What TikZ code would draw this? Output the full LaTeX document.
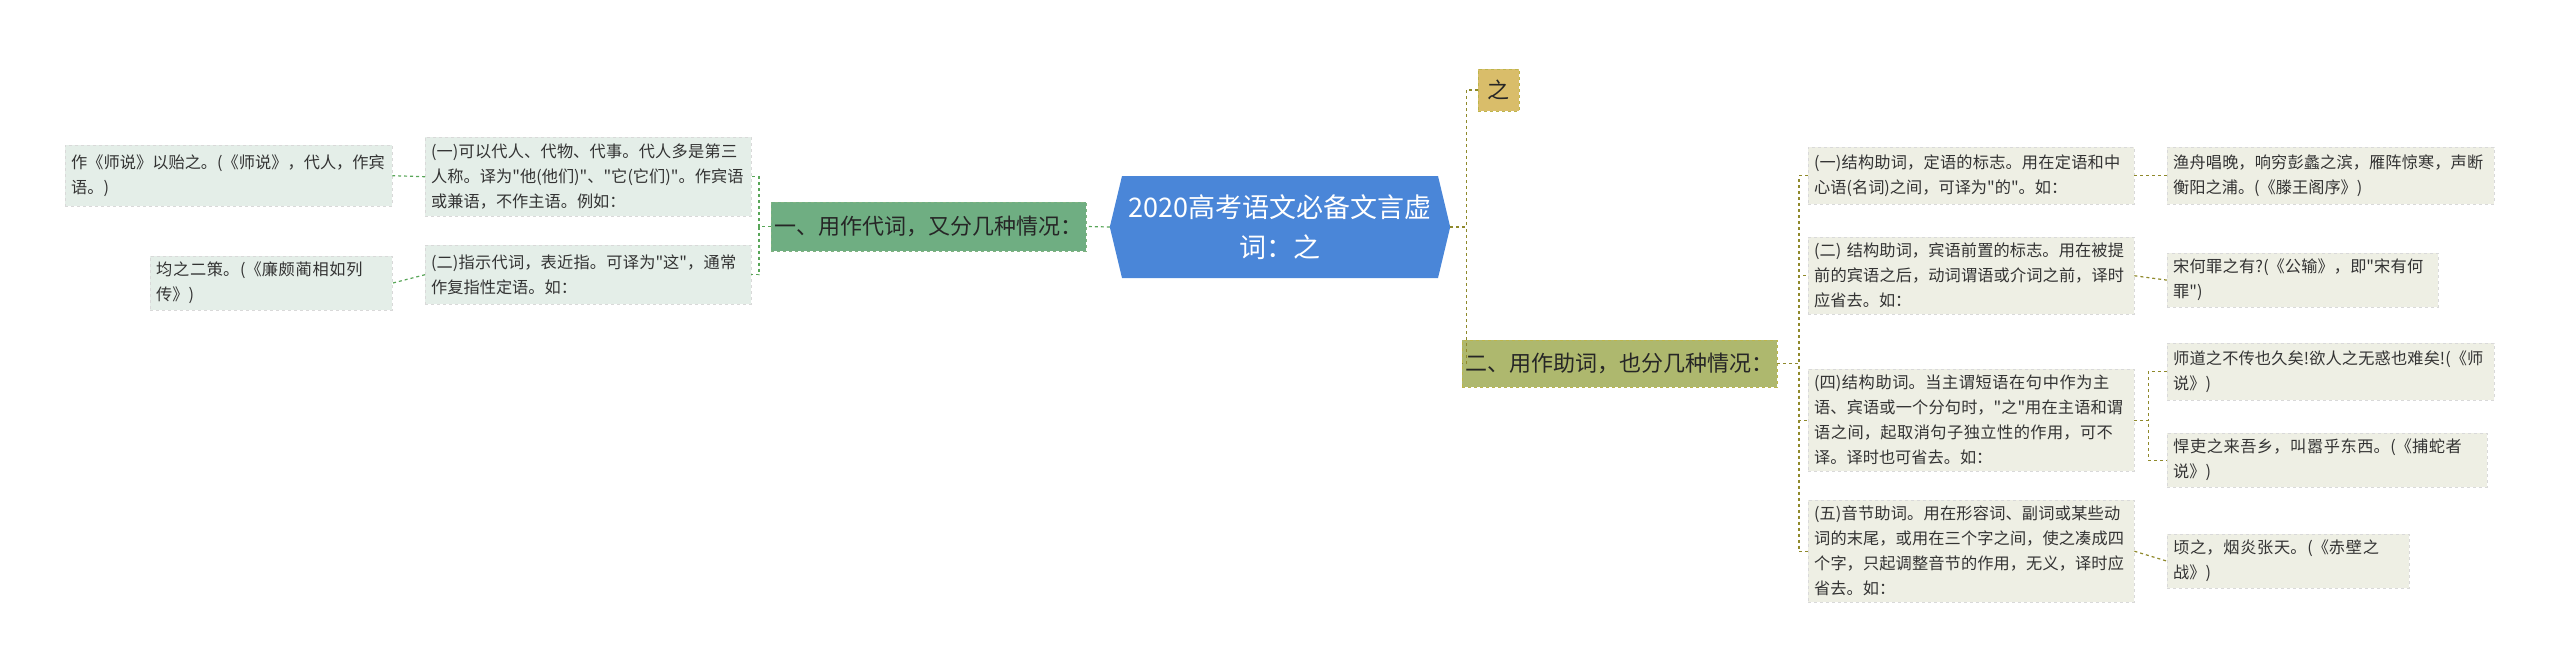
\documentclass[tikz,border=0pt]{standalone}
\usepackage{fontspec}
\setmainfont{Noto Sans CJK SC}
\XeTeXlinebreaklocale "zh"
\XeTeXlinebreakskip=0pt plus 1pt
\newcommand\qq{\textquotedbl}
\begin{document}
\begin{tikzpicture}[x=1pt,y=-1pt,
  leafL/.style={draw=white!85!black, dashed, fill={rgb,255:red,228;green,238;blue,232}, text width=#1, align=left, inner sep=6pt, font=\fontsize{16.2}{25}\selectfont, text=black!80, anchor=north west},
  leafR/.style={draw=white!85!black, dashed, fill={rgb,255:red,238;green,239;blue,228}, text width=#1, align=left, inner sep=6pt, font=\fontsize{16.2}{25}\selectfont, text=black!80, anchor=north west},
  lconn/.style={draw=green!30!gray, dashed, line width=1.2pt},
  rconn/.style={draw=olive!70!gray, dashed, line width=1.2pt}]
\useasboundingbox (0,0) rectangle (2560,667);
% central
\node[minimum width=340, minimum height=102, inner sep=0] (c) at (1280,227) {};
\fill[fill={rgb,255:red,74;green,134;blue,216}]
  (c.west) -- (1122,176) -- (1438,176) -- (c.east) -- (1438,278) -- (1122,278) -- cycle;
\node[text=white, align=center, font=\fontsize{27}{40}\selectfont] at (c) {2020高考语文必备文言虚\\词：之};
% branches
\node[fill={rgb,255:red,111;green,174;blue,130}, draw=green!40!black!50, dashed, minimum width=309, minimum height=49, font=\fontsize{22}{26}\selectfont, text=black!85] (b1) at (928.5,226.5) {一、用作代词，又分几种情况：};
\node[fill={rgb,255:red,217;green,189;blue,106}, draw=olive!60, dashed, minimum width=41, minimum height=42, font=\fontsize{22}{26}\selectfont, text=black!85] (z) at (1498.5,90) {之};
\node[fill={rgb,255:red,174;green,184;blue,110}, draw=olive!60, dashed, minimum width=289, minimum height=47, font=\fontsize{22}{26}\selectfont, text=black!85] (b2) at (1619.5,363.5) {二、用作助词，也分几种情况：};
% left leaves
\node[leafL=314, minimum height=79] (l1) at (425,137) {(一)可以代人、代物、代事。代人多是第三人称。译为\qq 他(他们)\qq 、\qq 它(它们)\qq 。作宾语或兼语，不作主语。例如：};
\node[leafL=314, minimum height=59] (l2) at (425,245) {(二)指示代词，表近指。可译为\qq 这\qq ，通常作复指性定语。如：};
\node[leafL=315, minimum height=61] (ll1) at (65,145) {作《师说》以贻之。(《师说》，代人，作宾语。)};
\node[leafL=230, minimum height=38] (ll2) at (150,256) {均之二策。(《廉颇蔺相如列传》)};
% right leaves
\node[leafR=314, minimum height=57] (r1) at (1808,147) {(一)结构助词，定语的标志。用在定语和中心语(名词)之间，可译为\qq 的\qq 。如：};
\node[leafR=314, minimum height=77] (r2) at (1808,237) {(二) 结构助词，宾语前置的标志。用在被提前的宾语之后，动词谓语或介词之前，译时应省去。如：};
\node[leafR=314, minimum height=93] (r4) at (1808,369) {(四)结构助词。当主谓短语在句中作为主语、宾语或一个分句时，\qq 之\qq 用在主语和谓语之间，起取消句子独立性的作用，可不译。译时也可省去。如：};
\node[leafR=314, minimum height=98] (r5) at (1808,500) {(五)音节助词。用在形容词、副词或某些动词的末尾，或用在三个字之间，使之凑成四个字，只起调整音节的作用，无义，译时应省去。如：};
\node[leafR=315, minimum height=57] (rr1) at (2167,147) {渔舟唱晚，响穷彭蠡之滨，雁阵惊寒，声断衡阳之浦。(《滕王阁序》)};
\node[leafR=259, minimum height=41] (rr2) at (2167,253) {宋何罪之有?(《公输》，即\qq 宋有何罪\qq )};
\node[leafR=315, minimum height=57] (rr4a) at (2167,343) {师道之不传也久矣!欲人之无惑也难矣!(《师说》)};
\node[leafR=308, minimum height=37] (rr4b) at (2167,433) {悍吏之来吾乡，叫嚣乎东西。(《捕蛇者说》)};
\node[leafR=230, minimum height=38] (rr5) at (2167,534) {顷之，烟炎张天。(《赤壁之战》)};
% connectors
\draw[lconn] (c.west) -- (b1.east);
\draw[lconn] (b1.west) -- ++(-12,0) |- (l1.east);
\draw[lconn] (b1.west) -- ++(-12,0) |- (l2.east);
\draw[lconn] (l1.west) -- (ll1.east);
\draw[lconn] (l2.west) -- (ll2.east);
\draw[rconn] (c.east) -- ++(16,0) |- (z.west);
\draw[rconn] (c.east) -- ++(16,0) |- (b2.west);
\draw[rconn] (b2.east) -- ++(22,0) |- (r1.west);
\draw[rconn] (b2.east) -- ++(22,0) |- (r2.west);
\draw[rconn] (b2.east) -- ++(22,0) |- (r4.west);
\draw[rconn] (b2.east) -- ++(22,0) |- (r5.west);
\draw[rconn] (r1.east) -- (rr1.west);
\draw[rconn] (r2.east) -- (rr2.west);
\draw[rconn] (r4.east) -- ++(14,0) |- (rr4a.west);
\draw[rconn] (r4.east) -- ++(14,0) |- (rr4b.west);
\draw[rconn] (r5.east) -- (rr5.west);
\end{tikzpicture}
\end{document}
